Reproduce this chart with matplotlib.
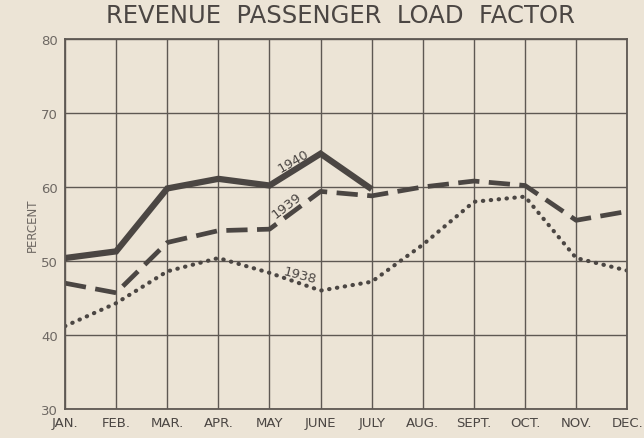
import matplotlib
matplotlib.use("Agg")
from matplotlib import pyplot as plt
import numpy as np

months = ["JAN.", "FEB.", "MAR.", "APR.", "MAY", "JUNE", "JULY",
          "AUG.", "SEPT.", "OCT.", "NOV.", "DEC."]
load_1940 = [50.4, 51.3, 59.8, 61.1, 60.2, 64.5, 59.7]
load_1939 = [47.0, 45.7, 52.5, 54.1, 54.3, 59.4, 58.8, 60.0, 60.8, 60.2, 55.5, 56.7]
load_1938 = [41.2, 44.3, 48.6, 50.4, 48.4, 46.0, 47.2, 52.2, 58.0, 58.7, 50.4, 48.7]
y_ticks = [30, 40, 50, 60, 70, 80]

paper = "#ece4d6"
ink = "#4b4643"
grid_ink = "#5e5853"
label_ink = "#6e6863"

fig = plt.figure(figsize=(6.44, 4.39), dpi=100, facecolor=paper)
ax = fig.add_axes([0.101, 0.066, 0.873, 0.843])
ax.set_facecolor(paper)

x = np.arange(len(months))
ax.plot(x[:len(load_1940)], load_1940, color=ink, linewidth=4.5,
        solid_capstyle="butt", solid_joinstyle="miter")
ax.plot(x, load_1939, color=ink, linewidth=3.4, dashes=(4.5, 2.0))
ax.plot(x, load_1938, color=ink, linewidth=3.0, linestyle=(0, (0.1, 1.8)),
        dash_capstyle="round")

# year labels written along the lines
ax.text(4.47, 63.6, "1940", rotation=30, ha="center", va="center",
        fontsize=9.5, color=ink)
ax.text(4.34, 57.6, "1939", rotation=38, ha="center", va="center",
        fontsize=9.5, color=ink)
ax.text(4.6, 48.1, "1938", rotation=-15, ha="center", va="center",
        fontsize=9.5, color=ink)

ax.set_xlim(0, 11)
ax.set_ylim(30, 80)
ax.set_xticks(x)
ax.set_xticklabels(months, fontsize=9.5, color=ink)
ax.set_yticks(y_ticks)
ax.set_yticklabels([str(v) for v in y_ticks], fontsize=9.5, color=label_ink)
ax.tick_params(length=0, pad=5)
ax.grid(color=grid_ink, linewidth=1.0)
for s in ax.spines.values():
    s.set_color(grid_ink)
    s.set_linewidth(1.3)

ax.set_ylabel("PERCENT", fontsize=8.5, color=label_ink, labelpad=2)
fig.suptitle("REVENUE  PASSENGER  LOAD  FACTOR", x=0.528, y=0.99,
             fontsize=17.5, color=ink)

plt.savefig("out.png", facecolor=paper)
